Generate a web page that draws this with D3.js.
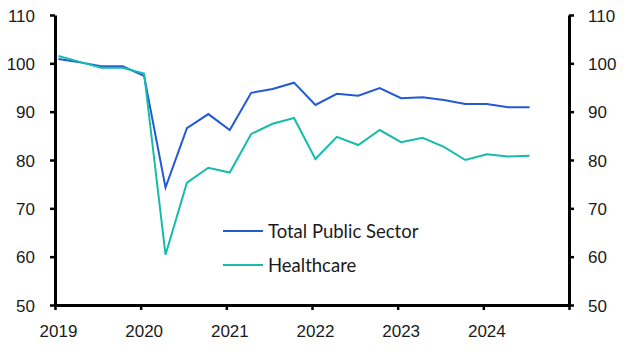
<!DOCTYPE html>
<html>
<head>
<meta charset="utf-8">
<script src="https://cdn.jsdelivr.net/npm/d3@7"></script>
<style>
  html, body { margin: 0; padding: 0; background: #fff; }
  svg { display: block; font-family: Lato, "Open Sans", sans-serif; }
</style>
</head>
<body>
<svg id="chart" width="631" height="356"></svg>
<script>
// ---- data ----
const quarters = [
  "2019Q1","2019Q2","2019Q3","2019Q4",
  "2020Q1","2020Q2","2020Q3","2020Q4",
  "2021Q1","2021Q2","2021Q3","2021Q4",
  "2022Q1","2022Q2","2022Q3","2022Q4",
  "2023Q1","2023Q2","2023Q3","2023Q4",
  "2024Q1","2024Q2","2024Q3"
];
const totalPublicSector = [
  100.9, 100.2, 99.4, 99.4,
  97.4, 74.3, 86.6, 89.5,
  86.2, 93.9, 94.7, 96.0,
  91.4, 93.7, 93.3, 94.9,
  92.8, 93.0, 92.4, 91.6,
  91.6, 90.9, 90.9
];
const healthcare = [
  101.5, 100.3, 99.1, 99.1,
  97.9, 60.4, 75.3, 78.4,
  77.4, 85.4, 87.5, 88.7,
  80.2, 84.8, 83.1, 86.2,
  83.7, 84.6, 82.7, 80.0,
  81.2, 80.7, 80.9
];
const yearTicks = [2019, 2020, 2021, 2022, 2023, 2024, 2025];
const yearLabels = ["2019", "2020", "2021", "2022", "2023", "2024", ""];
const yTicks = [50, 60, 70, 80, 90, 100, 110];
const seriesNames = ["Total Public Sector", "Healthcare"];
const seriesColors = ["#2459d4", "#16bcab"];

// ---- layout ----
const svg = d3.select("#chart");
const mLeft = 55, mRight = 569, mTop = 15, mBottom = 305;

const x = d3.scaleLinear().domain([2019, 2025]).range([mLeft, mRight]);
const y = d3.scaleLinear().domain([50, 110]).range([mBottom, mTop]);

// quarter string -> decimal year (first month mid-point of quarter)
const qToYear = q => +q.slice(0, 4) + (+q.slice(5) - 1) * 0.25 + 0.04;

const series = [totalPublicSector, healthcare];

// ---- lines ----
const line = d3.line()
  .x((d, i) => x(qToYear(quarters[i])))
  .y(d => y(d));

series.forEach((s, k) => {
  svg.append("path")
    .datum(s)
    .attr("fill", "none")
    .attr("stroke", seriesColors[k])
    .attr("stroke-width", 2)
    .attr("stroke-linejoin", "miter")
    .attr("d", line);
});

// ---- axes ----
function styleAxis(g) {
  g.selectAll(".domain").attr("stroke", "#000").attr("stroke-width", 3);
  g.selectAll(".tick line").attr("stroke", "#000").attr("stroke-width", 2.5);
  g.selectAll(".tick text").attr("fill", "#1a1a1a").style("font-size", "17px");
}

const yLeft = svg.append("g")
  .attr("transform", `translate(${mLeft},0)`)
  .call(d3.axisLeft(y).tickValues(yTicks).tickSize(5).tickSizeOuter(0).tickPadding(15));
styleAxis(yLeft);
yLeft.selectAll(".tick text").attr("dy", "0.36em");

const yRight = svg.append("g")
  .attr("transform", `translate(${mRight},0)`)
  .call(d3.axisRight(y).tickValues(yTicks).tickSize(5).tickSizeOuter(0).tickPadding(14));
styleAxis(yRight);
yRight.selectAll(".tick text").attr("dy", "0.36em");

const xAxis = svg.append("g")
  .attr("transform", `translate(0,${mBottom})`)
  .call(d3.axisBottom(x).tickValues(yearTicks).tickFormat((d, i) => yearLabels[i]).tickSize(5).tickSizeOuter(0).tickPadding(15));
styleAxis(xAxis);
xAxis.selectAll(".tick text").attr("dx", "3");

// ---- legend ----
const legend = svg.append("g");
seriesNames.forEach((name, k) => {
  const ly = 231 + k * 34;
  legend.append("line")
    .attr("x1", 223).attr("x2", 263)
    .attr("y1", ly).attr("y2", ly)
    .attr("stroke", seriesColors[k]).attr("stroke-width", 2);
  legend.append("text")
    .attr("x", 268).attr("y", ly)
    .attr("dy", "0.36em")
    .attr("fill", "#1a1a1a")
    .style("font-size", "18.5px")
    .text(name);
});
</script>
</body>
</html>
